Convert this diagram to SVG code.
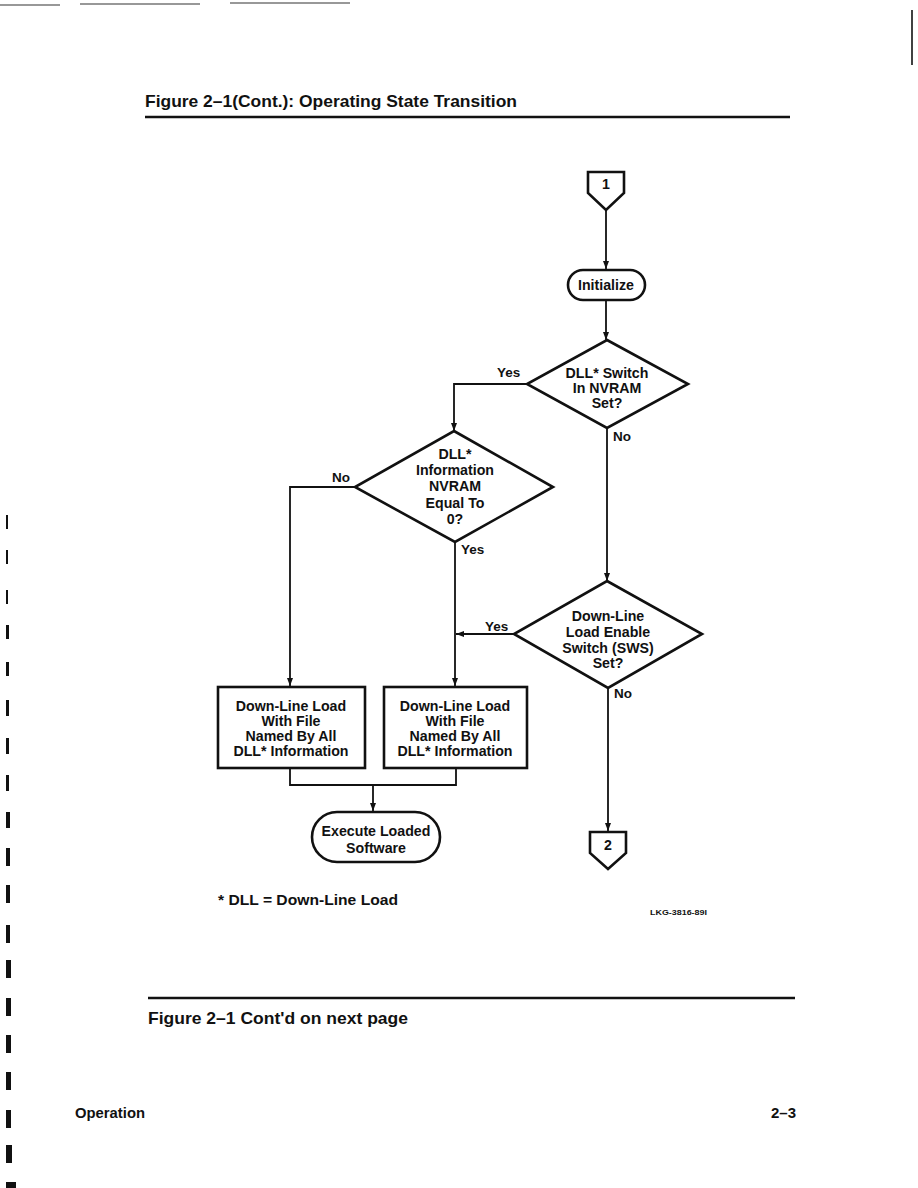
<svg xmlns="http://www.w3.org/2000/svg" width="918" height="1188" viewBox="0 0 918 1188">
<style>
.t{font-family:"Liberation Sans",Arial,sans-serif;font-weight:bold;fill:#111;}
.n{font-size:14.2px;text-anchor:middle;}
.lbl{font-size:13.5px;}
.sh{fill:#fff;stroke:#111;stroke-width:2.6;}
.ln{fill:none;stroke:#111;stroke-width:1.8;}
.art{fill:#111;}
</style>
<defs>
<marker id="ah" viewBox="0 0 8 6" refX="8" refY="3" markerWidth="8" markerHeight="6" orient="auto" markerUnits="userSpaceOnUse">
<path d="M0,0 L8,3 L0,6 Z" fill="#111"/>
</marker>
</defs>
<rect width="918" height="1188" fill="#fff"/>
<g id="artifacts">
<path d="M0,5 H60 M80,4 H200 M230,3 H350" stroke="#333" stroke-width="1.2"/>
<line x1="912" y1="10" x2="912" y2="65" stroke="#111" stroke-width="1.6"/>
<rect class="art" x="6" y="515" width="2" height="14"/>
<rect class="art" x="6" y="550" width="2" height="14"/>
<rect class="art" x="6" y="590" width="2" height="14"/>
<rect class="art" x="6" y="625" width="3" height="14"/>
<rect class="art" x="6" y="662" width="3" height="14"/>
<rect class="art" x="6" y="700" width="3" height="16"/>
<rect class="art" x="6" y="738" width="3" height="16"/>
<rect class="art" x="6" y="775" width="3" height="16"/>
<rect class="art" x="6" y="812" width="4" height="16"/>
<rect class="art" x="6" y="848" width="4" height="18"/>
<rect class="art" x="6" y="885" width="4" height="18"/>
<rect class="art" x="6" y="925" width="4" height="18"/>
<rect class="art" x="6" y="960" width="5" height="18"/>
<rect class="art" x="6" y="998" width="5" height="18"/>
<rect class="art" x="6" y="1035" width="5" height="18"/>
<rect class="art" x="6" y="1072" width="5" height="18"/>
<rect class="art" x="6" y="1110" width="5" height="18"/>
<rect class="art" x="6" y="1145" width="6" height="18"/>
<rect class="art" x="6" y="1182" width="10" height="6"/>
</g>
<g id="header">
<text class="t" x="145" y="107" font-size="16.5" textLength="372" lengthAdjust="spacingAndGlyphs">Figure 2–1(Cont.):   Operating State Transition</text>
<line x1="145" y1="117" x2="790" y2="117" stroke="#111" stroke-width="2.5"/>
</g>
<g id="connectors">
<line class="ln" x1="606" y1="204" x2="606" y2="269" marker-end="url(#ah)"/>
<line class="ln" x1="606" y1="300" x2="606" y2="340" marker-end="url(#ah)"/>
<polyline class="ln" points="527,384 454,384 454,431" marker-end="url(#ah)"/>
<line class="ln" x1="607" y1="428" x2="607" y2="581" marker-end="url(#ah)"/>
<polyline class="ln" points="355,487 290,487 290,686" marker-end="url(#ah)"/>
<line class="ln" x1="455" y1="543" x2="455" y2="686" marker-end="url(#ah)"/>
<line class="ln" x1="514" y1="634" x2="456" y2="634" marker-end="url(#ah)"/>
<line class="ln" x1="608" y1="688" x2="608" y2="831" marker-end="url(#ah)"/>
<polyline class="ln" points="290,768 290,785 456,785 456,768"/>
<line class="ln" x1="373" y1="785" x2="373" y2="811" marker-end="url(#ah)"/>
<text class="t lbl" x="497" y="377">Yes</text>
<text class="t lbl" x="613" y="441">No</text>
<text class="t lbl" x="332" y="482">No</text>
<text class="t lbl" x="461" y="554">Yes</text>
<text class="t lbl" x="485" y="631">Yes</text>
<text class="t lbl" x="614" y="698">No</text>
</g>
<g id="conn1">
<polygon class="sh" points="588,172 624,172 624,193 606,210 588,193"/>
<text class="t n" x="606" y="189">1</text>
</g>
<g id="initialize">
<rect class="sh" x="568" y="270" width="77" height="30" rx="15"/>
<text class="t n" x="606" y="290">Initialize</text>
</g>
<g id="d1">
<polygon class="sh" points="607,340 688,384 607,428 527,384"/>
<text class="t n" x="607" y="378">DLL* Switch</text>
<text class="t n" x="607" y="393">In NVRAM</text>
<text class="t n" x="607" y="408">Set?</text>
</g>
<g id="d2">
<polygon class="sh" points="454,431 553,487 455,542 355,487"/>
<text class="t n" x="455" y="459">DLL*</text>
<text class="t n" x="455" y="475">Information</text>
<text class="t n" x="455" y="491">NVRAM</text>
<text class="t n" x="455" y="508">Equal  To</text>
<text class="t n" x="455" y="524">0?</text>
</g>
<g id="d3">
<polygon class="sh" points="607,581 702,634 608,688 514,634"/>
<text class="t n" x="608" y="621">Down-Line</text>
<text class="t n" x="608" y="637">Load Enable</text>
<text class="t n" x="608" y="653">Switch (SWS)</text>
<text class="t n" x="608" y="668">Set?</text>
</g>
<g id="box1">
<rect class="sh" x="218" y="687" width="147" height="81"/>
<text class="t n" x="291" y="711">Down-Line Load</text>
<text class="t n" x="291" y="726">With File</text>
<text class="t n" x="291" y="741">Named By All</text>
<text class="t n" x="291" y="756">DLL* Information</text>
</g>
<g id="box2">
<rect class="sh" x="384" y="687" width="143" height="81"/>
<text class="t n" x="455" y="711">Down-Line Load</text>
<text class="t n" x="455" y="726">With File</text>
<text class="t n" x="455" y="741">Named By All</text>
<text class="t n" x="455" y="756">DLL* Information</text>
</g>
<g id="execute">
<rect class="sh" x="312" y="812" width="128" height="50" rx="25"/>
<text class="t n" x="376" y="836" font-size="15">Execute Loaded</text>
<text class="t n" x="376" y="853" font-size="15">Software</text>
</g>
<g id="conn2">
<polygon class="sh" points="590,832 626,832 626,853 608,869 590,853"/>
<text class="t n" x="608" y="850">2</text>
</g>
<g id="footnotes">
<text class="t" x="218" y="905" font-size="14.5" textLength="180" lengthAdjust="spacingAndGlyphs">* DLL  =  Down-Line Load</text>
<text class="t" x="650" y="915" font-size="7" textLength="57" lengthAdjust="spacingAndGlyphs">LKG-3816-89I</text>
<line x1="148" y1="998" x2="795" y2="998" stroke="#111" stroke-width="2.5"/>
<text class="t" x="148" y="1024" font-size="16.5" textLength="260" lengthAdjust="spacingAndGlyphs">Figure 2–1 Cont'd on next page</text>
<text class="t" x="75" y="1118" font-size="14.5" textLength="70" lengthAdjust="spacingAndGlyphs">Operation</text>
<text class="t" x="771" y="1118" font-size="14.5" textLength="25" lengthAdjust="spacingAndGlyphs">2–3</text>
</g>
</svg>
